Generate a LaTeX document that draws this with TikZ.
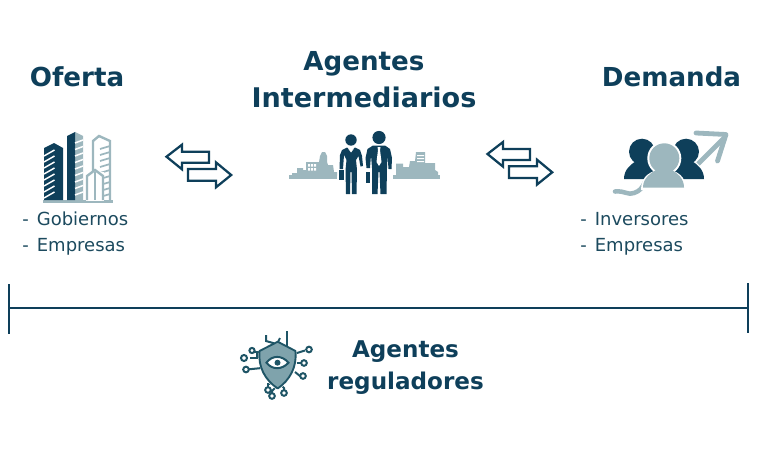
\documentclass[tikz,border=0pt]{standalone}
\usepackage{fontspec}
\setmainfont{DejaVu Sans}
\definecolor{dk}{HTML}{0E3F5A}
\definecolor{txt}{HTML}{1C4A5E}
\definecolor{lt}{HTML}{9DB7BE}
\definecolor{shieldc}{HTML}{7FA3AC}
\definecolor{teal}{HTML}{1F5566}
\tikzset{
  title/.style={anchor=base,inner sep=0pt,font=\fontsize{19.6pt}{22pt}\selectfont\bfseries,text=dk},
  subtitle/.style={anchor=base,inner sep=0pt,font=\fontsize{17.3pt}{20pt}\selectfont\bfseries,text=dk},
  item/.style={anchor=base west,inner sep=0pt,font=\fontsize{13.5pt}{16pt}\selectfont,text=txt},
  arrowbox/.style={draw=dk,line width=1.7pt,fill=white,line join=miter},
  rule/.style={draw=dk,line width=1.9pt},
  circ/.style={draw=teal,line width=1.5pt,fill=white},
  trace/.style={draw=teal,line width=1.5pt},
  lightline/.style={draw=lt,line width=1.3pt},
  stripe/.style={draw=white,line width=1.1pt},
  swaparrows/.pic={
    \path[arrowbox] (0.8,0) -- (16.3,-12) -- (16.3,-5) -- (43.3,-5) -- (43.3,6) -- (16.3,6) -- (16.3,12.6) -- cycle;
    \path[arrowbox] (65.5,18.3) -- (50.3,5.7) -- (50.3,12.3) -- (22.3,12.3) -- (22.3,24) -- (50.3,24) -- (50.3,30.6) -- cycle;
  }
}
\begin{document}
\begin{tikzpicture}[x=0.75pt,y=-0.75pt]
\useasboundingbox (0,0) rectangle (768,453);
% titles
\node[title] (oferta) at (77,87) {Oferta};
\node[title] (ag) at (364,71) {Agentes};
\node[title,font=\fontsize{20.3pt}{22pt}\selectfont\bfseries] (inter) at (364,108) {Intermediarios};
\node[title] (demanda) at (671.5,87) {Demanda};
\node[item] (gob) at (22,225) {-\hspace{0.45em}Gobiernos};
\node[item] (emp1) at (22,251) {-\hspace{0.45em}Empresas};
\node[item] (inv) at (580,225) {-\hspace{0.45em}Inversores};
\node[item] (emp2) at (580,251) {-\hspace{0.45em}Empresas};
\node[subtitle] (ag2) at (405.5,357) {Agentes};
\node[subtitle] (reg) at (405.5,389) {reguladores};
% exchange arrows
\pic at (165.7,156.7) {swaparrows};
\pic at (486.7,154) {swaparrows};
% rule
\coordinate (barL) at (9,308);
\coordinate (barR) at (748,308);
\coordinate (tickLa) at (9,284);
\coordinate (tickLb) at (9,334);
\coordinate (tickRa) at (748,283);
\coordinate (tickRb) at (748,333);
\draw[rule] (barL) -- (barR);
\draw[rule] (tickLa) -- (tickLb);
\draw[rule] (tickRa) -- (tickRb);
% ---- building icon
\fill[lt] (43,200) rectangle (113,202.5);
% right tower outline
\draw[lt,line width=1.8pt] (93,200) -- (93,141) -- (99,136) -- (110,141) -- (110,200);
\foreach \y in {146,152,158,164,170,176,182,188,194} \draw[lightline] (100,\y+3) -- (110,\y);
\draw[white,fill=white] (86,172) rectangle (103,200);
% front small building
\draw[lt,line width=1.8pt,fill=white] (87,200) -- (87,176) -- (95,170) -- (103,176) -- (103,200);
\draw[lt,line width=1.5pt] (95,172) -- (95,200);
% middle tower
\fill[lt] (75,132) -- (83,136) -- (83,200) -- (75,200) -- cycle;
\fill[dk] (67,136) -- (75,132) -- (75,200) -- (67,200) -- cycle;
\foreach \y in {140,146.5,153,159.5,166,172.5,179,185.5,192} \draw[stripe] (75,\y+3) -- (83,\y);
% left tower
\fill[dk] (44,148) -- (54,143) -- (63,148) -- (63,200) -- (44,200) -- cycle;
\foreach \y in {152,158,164,170,176,182,188,194} \draw[stripe] (44,\y+4) -- (54.5,\y-2);
% ---- people icon
\fill[lt] (289,175.2) rectangle (337,178.5);
\fill[lt] (393,175.2) rectangle (440,178.5);
% left skyline
\fill[lt] (292,175.5) -- (292,173) -- (297,173) -- (297,168) -- (303,168) -- (303,170) -- (306,170) -- (306,162) -- (319,162) -- (320,156) -- (322,152) -- (325,152) -- (327,156) -- (327,162) -- (328,165) -- (333,165) -- (334,172) -- (337,172) -- (337,175.5) -- cycle;
\fill[white] (308,164) rectangle (310,166.5) (311,164) rectangle (313,166.5) (314,164) rectangle (316,166.5) (308,168) rectangle (310,170.5) (311,168) rectangle (313,170.5) (314,168) rectangle (316,170.5);
% right skyline
\fill[lt] (396,175.5) -- (396,163.5) -- (403,163.5) -- (403,167) -- (409,167) -- (410,161) -- (415,161) -- (416,152) -- (425,152) -- (425,163) -- (435,163) -- (435,170) -- (438,172) -- (438,175.5) -- cycle;
\fill[white] (417,155) rectangle (424,156) (417,158) rectangle (424,159) (417,161) rectangle (424,162);
% woman
\fill[dk] (351,140) circle (5.7);
\fill[dk] (346,194) -- (345.5,170) -- (346.5,160) -- (344,155) -- (343,169) -- (339.5,169) -- (340,155) -- (342,150) -- (347,147.5) -- (351,151) -- (355,147.5) -- (360,150) -- (362,156) -- (363,166) -- (360.5,166.5) -- (358.5,156) -- (356,160) -- (357,170) -- (356.5,194) -- (352,194) -- (351.5,172) -- (350.5,172) -- (350,194) -- cycle;
\fill[white] (348,148.5) -- (351,152.5) -- (354,148.5) -- (351,150) -- cycle;
\fill[dk] (339.3,169.5) rectangle (343.5,180);
% man
\fill[dk] (379,137.5) circle (6.6);
\fill[dk] (372,194) -- (372,168) -- (371,155) -- (370,168) -- (366.5,168) -- (365.5,158) -- (367.5,149) -- (373,145.5) -- (385,145.5) -- (390,149) -- (392,158) -- (391.5,169) -- (388.5,169) -- (387.5,155) -- (387,168) -- (386.5,194) -- (380.5,194) -- (379.5,172) -- (378.5,172) -- (377.5,194) -- cycle;
\fill[white] (377.5,147) -- (380.5,147) -- (380,150) -- (381.5,162) -- (379,166) -- (376.5,162) -- (378,150) -- cycle;
\fill[dk] (365.5,171.5) rectangle (370.2,182.5);
% ---- investors icon
\draw[lt,line width=3.4pt,line cap=round] (615,191.5) .. controls (625,190.5) and (628,195.5) .. (634,193) .. controls (640,191) and (642,188) .. (645,182);
\draw[lt,line width=3.6pt] (698,164) -- (725,137);
\draw[lt,line width=3.6pt,line cap=round,line join=round] (696,133) -- (726,134.5) -- (717.5,161);
\fill[dk] (642,151.7) circle (13);
\fill[dk] (686,151.7) circle (13);
\fill[dk] (624,179) .. controls (624,170) and (630,165) .. (636,161) -- (648,161) .. controls (654,165) and (660,170) .. (660,179) -- cycle;
\fill[dk] (668,179) .. controls (668,170) and (674,165) .. (680,161) -- (692,161) .. controls (698,165) and (704,170) .. (704,179) -- cycle;
\fill[white] (664.3,158.3) circle (17);
\fill[white] (641,190) .. controls (641,176) and (650,171) .. (664,168) .. controls (678,171) and (686,176) .. (686,190) -- cycle;
\fill[lt] (664.3,158.3) circle (15);
\fill[lt] (643,187.5) .. controls (643,178) and (651,173) .. (656,170) -- (672,170) .. controls (677,173) and (684,178) .. (684,187.5) -- cycle;
% ---- shield icon
\draw[trace,line width=1.9pt] (287,331) -- (287,349);
\draw[trace] (266,335) -- (266,341) -- (273,343) -- (273,347);
\draw[trace] (280,338) -- (277,344);
\draw[trace] (261,352) -- (252,352) (257,352) -- (257,358) -- (250,358);
\draw[trace] (262,368) -- (247,369.5);
\draw[trace] (297,353) -- (305,350.5);
\draw[trace] (297,363) -- (304,363);
\draw[trace] (295,372) -- (300,376) -- (303,376);
\draw[trace] (272,384) -- (268,384) -- (268,389);
\draw[trace] (276,387) -- (272,391) -- (272,394);
\draw[trace] (281,385) -- (284,388) -- (284,391);
\fill[white] (277.7,341.7) -- (259,351) .. controls (257,368) and (264,382) .. (277.7,390) .. controls (291,382) and (298,368) .. (296,351) -- cycle;
\draw[draw=teal,fill=shieldc,line width=1.4pt,line join=round] (277.7,341.7) -- (259.5,351) .. controls (258,367) and (265,380) .. (277.7,388.5) .. controls (290,380) and (297,367) .. (295.5,351) -- cycle;
\draw[draw=teal,fill=white,line width=1.5pt] (266.5,362.7) .. controls (272,355) and (282,355) .. (288.5,362.7) .. controls (282,370) and (272,370) .. (266.5,362.7) -- cycle;
\fill[teal] (277.5,362.7) circle (3);
\draw[circ] (252,350.5) circle (2.6);
\draw[circ] (244,358) circle (3);
\draw[circ] (246,369.5) circle (2.8);
\draw[circ] (309,349.5) circle (2.8);
\draw[circ] (304,363) circle (2.8);
\draw[circ] (303,376) circle (2.8);
\draw[circ] (268,390) circle (2.8);
\draw[circ] (272,396) circle (2.8);
\draw[circ] (284,393) circle (2.8);
\end{tikzpicture}
\end{document}
